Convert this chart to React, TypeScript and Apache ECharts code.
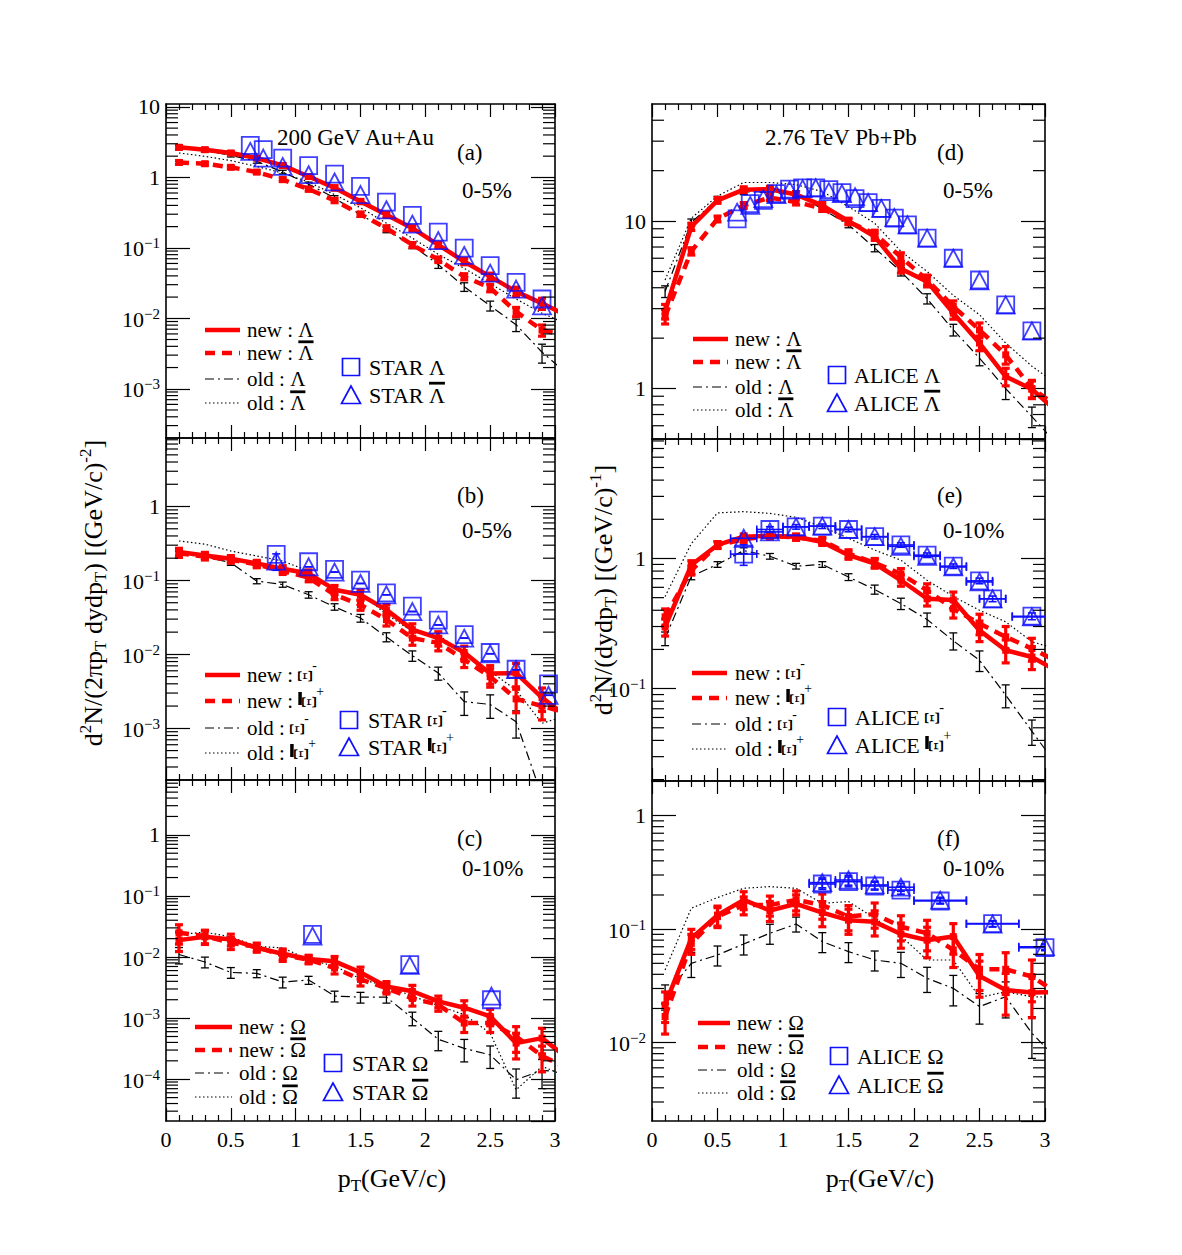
import React, { useEffect, useRef } from "react";
import * as echarts from "echarts";

const FONT = "'Liberation Serif', 'Times New Roman', Times, serif";
const RED = "#ff0000";
const BLUE = "#1010ff";
const BLACK = "#000000";

// model pT grid (last point lies just past the frame so the lines run to the edge)
const PT = [0.1, 0.3, 0.5, 0.7, 0.9, 1.1, 1.3, 1.5, 1.7, 1.9, 2.1, 2.3, 2.5, 2.7, 2.9, 3.1];

// ---------- (a) 200 GeV Au+Au, Lambda, 0-5% ----------
const A_NEW_L = [2.67, 2.47, 2.22, 1.88, 1.48, 1.03, 0.71, 0.455, 0.295, 0.19, 0.11, 0.064, 0.039, 0.024, 0.0163, 0.0107];
const A_NEW_LB = [1.63, 1.56, 1.39, 1.19, 0.93, 0.68, 0.47, 0.3, 0.19, 0.11, 0.068, 0.039, 0.027, 0.0124, 0.0068, 0.0056];
const A_OLD_L = [2.6, 2.4, 2.05, 1.69, 1.19, 0.8, 0.51, 0.295, 0.18, 0.108, 0.058, 0.028, 0.0151, 0.0081, 0.0033, 0.0016];
const A_OLD_LB = [2.22, 1.99, 1.73, 1.43, 1.15, 0.86, 0.57, 0.37, 0.224, 0.137, 0.081, 0.051, 0.031, 0.0188, 0.0118, 0.0082];
const A_ERR_NEW = [0.06, 0.05, 0.05, 0.05, 0.06, 0.06, 0.07, 0.07, 0.08, 0.08, 0.09, 0.1, 0.12, 0.15, 0.18];
const A_ERR_OLD = [0.05, 0.05, 0.05, 0.06, 0.06, 0.07, 0.08, 0.08, 0.09, 0.1, 0.12, 0.14, 0.16, 0.2, 0.3];
const A_STAR_X = [0.65, 0.75, 0.9, 1.1, 1.3, 1.5, 1.7, 1.9, 2.1, 2.3, 2.5, 2.7, 2.9];
const A_STAR_L = [2.85, 2.47, 1.88, 1.47, 1.11, 0.745, 0.446, 0.288, 0.167, 0.099, 0.056, 0.0324, 0.0188];
const A_STAR_LB = [2.34, 1.88, 1.43, 1.09, 0.86, 0.57, 0.347, 0.217, 0.127, 0.078, 0.0437, 0.026, 0.015];

// ---------- (b) 200 GeV Au+Au, Xi, 0-5% ----------
const B_NEW_X = [0.243, 0.218, 0.197, 0.17, 0.144, 0.124, 0.075, 0.064, 0.04, 0.0216, 0.0166, 0.0106, 0.0055, 0.0056, 0.0026, 0.0014];
const B_NEW_XB = [0.233, 0.21, 0.19, 0.165, 0.134, 0.109, 0.064, 0.047, 0.0295, 0.0166, 0.0143, 0.0085, 0.005, 0.0025, 0.002, 0.0016];
const B_OLD_X = [0.225, 0.21, 0.174, 0.098, 0.088, 0.064, 0.044, 0.031, 0.0172, 0.0096, 0.0056, 0.0023, 0.0021, 0.00123, 0.00012, 0.00003];
const B_OLD_XB = [0.342, 0.31, 0.25, 0.214, 0.183, 0.134, 0.077, 0.068, 0.0346, 0.0205, 0.0185, 0.01, 0.0059, 0.0033, 0.00117, 0.0015];
const B_ERR_NEW = [0.12, 0.1, 0.1, 0.1, 0.1, 0.12, 0.14, 0.16, 0.18, 0.2, 0.22, 0.22, 0.28, 0.35, 0.35];
const B_ERR_OLD = [0.1, 0.08, 0.08, 0.08, 0.08, 0.1, 0.1, 0.12, 0.14, 0.16, 0.2, 0.35, 0.35, 0.4, 0.5];
const B_STAR_X = [0.85, 1.1, 1.3, 1.5, 1.7, 1.9, 2.1, 2.3, 2.5, 2.7, 2.95];
const B_STAR_XM = [0.225, 0.179, 0.141, 0.101, 0.068, 0.045, 0.029, 0.0185, 0.0106, 0.0063, 0.004];
const B_STAR_XP = [0.183, 0.153, 0.13, 0.091, 0.064, 0.038, 0.025, 0.0166, 0.0102, 0.0062, 0.0028];
const B_STAR_XP_ERR = [0.25, 0, 0, 0, 0, 0, 0, 0, 0, 0, 0];

// ---------- (c) 200 GeV Au+Au, Omega, 0-10% ----------
const C_NEW_O = [0.0189, 0.0214, 0.0194, 0.0141, 0.0113, 0.0093, 0.0085, 0.0056, 0.0033, 0.00275, 0.00188, 0.00148, 0.00107, 0.00039, 0.00047, 0.00022];
const C_NEW_OB = [0.025, 0.022, 0.017, 0.0147, 0.0106, 0.0091, 0.0066, 0.0043, 0.0031, 0.0021, 0.00166, 0.00083, 0.00083, 0.0005, 0.00024, 0.00015];
const C_OLD_O = [0.011, 0.0083, 0.0056, 0.0054, 0.0039, 0.0042, 0.0023, 0.0022, 0.0022, 0.001, 0.00045, 0.00032, 0.00025, 0.000098, 0.00014, 0.00013];
const C_OLD_OB = [0.0234, 0.0255, 0.0214, 0.015, 0.0141, 0.0091, 0.0071, 0.0044, 0.0033, 0.0023, 0.0016, 0.00114, 0.00057, 0.000067, 0.000162, 0.00011];
const C_ERR_NEW = [0.35, 0.25, 0.22, 0.15, 0.2, 0.15, 0.2, 0.22, 0.2, 0.25, 0.22, 0.3, 0.3, 0.45, 0.45];
const C_ERR_OLD = [0.3, 0.2, 0.2, 0.15, 0.2, 0.15, 0.2, 0.2, 0.2, 0.25, 0.35, 0.4, 0.4, 0.5, 0.5];
const C_STAR_X = [1.13, 1.88, 2.51];
const C_STAR_O = [0.0234, 0.0075, 0.002];
const C_STAR_OB = [0.022, 0.0073, 0.0023];

// ---------- (d) 2.76 TeV Pb+Pb, Lambda, 0-5% ----------
const D_NEW_L = [2.89, 9.25, 13.3, 15.4, 15.5, 14.4, 12.4, 10, 8.07, 5.2, 4.35, 2.82, 1.87, 1.18, 0.99, 0.72];
const D_NEW_LB = [2.7, 6.6, 10.3, 12.4, 13.8, 13.0, 11.9, 9.9, 8.4, 6.1, 4.45, 3.09, 2.24, 1.59, 1.0, 0.78];
const D_OLD_L = [3.8, 9.8, 13.5, 15.0, 14.8, 14.6, 11.8, 9.5, 6.9, 5.0, 3.44, 2.24, 1.52, 1.0, 0.68, 0.46];
const D_OLD_LB = [4.45, 10.4, 14.1, 17, 17, 16.5, 15, 12.2, 9.7, 6.6, 5.0, 3.6, 2.76, 1.87, 1.36, 1.05];
const D_ERR_NEW = [0.1, 0.05, 0.04, 0.04, 0.04, 0.04, 0.04, 0.04, 0.05, 0.06, 0.07, 0.08, 0.1, 0.12, 0.12];
const D_ERR_OLD = [0.08, 0.05, 0.04, 0.04, 0.04, 0.04, 0.04, 0.04, 0.05, 0.06, 0.07, 0.08, 0.1, 0.14, 0.14];
const D_ALICE_X = [0.65, 0.75, 0.85, 0.95, 1.05, 1.15, 1.25, 1.35, 1.45, 1.55, 1.65, 1.75, 1.85, 1.95, 2.1, 2.3, 2.5, 2.7, 2.9];
const D_ALICE_L = [10.3, 12.7, 13.3, 14.6, 15.5, 15.8, 15.8, 15.4, 14.8, 13.6, 12.9, 11.9, 10.4, 9.5, 7.9, 6.0, 4.45, 3.16, 2.21];
const D_ALICE_LB = [11.3, 12.4, 13.6, 14.4, 15.3, 15.6, 15.8, 15.0, 14.6, 14.0, 12.9, 11.9, 10.5, 9.5, 7.9, 6.0, 4.4, 3.16, 2.21];

// ---------- (e) 2.76 TeV Pb+Pb, Xi, 0-10% ----------
const E_NEW_X = [0.298, 0.89, 1.27, 1.47, 1.49, 1.47, 1.34, 1.06, 0.915, 0.68, 0.49, 0.48, 0.28, 0.197, 0.175, 0.135];
const E_NEW_XB = [0.356, 0.81, 1.27, 1.4, 1.49, 1.45, 1.37, 1.09, 0.926, 0.76, 0.57, 0.41, 0.316, 0.25, 0.203, 0.16];
const E_OLD_X = [0.243, 0.73, 0.9, 1.15, 1.04, 0.873, 0.9, 0.72, 0.578, 0.45, 0.34, 0.233, 0.165, 0.089, 0.047, 0.025];
const E_OLD_XB = [0.51, 1.3, 2.24, 2.29, 2.22, 2.07, 1.75, 1.43, 1.16, 0.97, 0.68, 0.51, 0.4, 0.326, 0.229, 0.2];
const E_ERR_NEW = [0.15, 0.08, 0.06, 0.05, 0.05, 0.05, 0.06, 0.07, 0.08, 0.1, 0.12, 0.15, 0.18, 0.2, 0.2];
const E_ERR_OLD = [0.12, 0.06, 0.05, 0.05, 0.05, 0.05, 0.05, 0.06, 0.08, 0.1, 0.12, 0.15, 0.18, 0.2, 0.22];
const E_ALICE_X = [0.7, 0.9, 1.1, 1.3, 1.5, 1.7, 1.9, 2.1, 2.3, 2.5, 2.6, 2.9];
const E_ALICE_XERR = [0.1, 0.1, 0.1, 0.1, 0.1, 0.1, 0.1, 0.1, 0.1, 0.1, 0.1, 0.15];
const E_ALICE_XM = [1.08, 1.67, 1.75, 1.77, 1.67, 1.47, 1.27, 1.06, 0.873, 0.673, 0.49, 0.36];
const E_ALICE_XP = [1.43, 1.6, 1.75, 1.77, 1.67, 1.47, 1.24, 1.04, 0.86, 0.66, 0.49, 0.356];
const E_ALICE_XM_ERR = [0.18, 0.05, 0.04, 0.04, 0.04, 0.04, 0.04, 0.04, 0.04, 0.05, 0.05, 0.06];

// ---------- (f) 2.76 TeV Pb+Pb, Omega, 0-10% ----------
const F_NEW_O = [0.0215, 0.083, 0.133, 0.181, 0.146, 0.167, 0.14, 0.12, 0.116, 0.0906, 0.08, 0.086, 0.0387, 0.0291, 0.0276, 0.028];
const F_NEW_OB = [0.017, 0.075, 0.129, 0.163, 0.163, 0.181, 0.163, 0.129, 0.136, 0.105, 0.092, 0.0656, 0.0443, 0.0443, 0.0382, 0.027];
const F_OLD_O = [0.0258, 0.05, 0.0592, 0.074, 0.092, 0.111, 0.0776, 0.0634, 0.0535, 0.05, 0.0369, 0.0301, 0.0208, 0.0254, 0.0121, 0.007];
const F_OLD_OB = [0.0437, 0.153, 0.19, 0.229, 0.237, 0.229, 0.169, 0.175, 0.125, 0.087, 0.0535, 0.0535, 0.0251, 0.028, 0.0254, 0.025];
const F_ERR_NEW = [0.3, 0.2, 0.2, 0.18, 0.2, 0.2, 0.25, 0.25, 0.25, 0.25, 0.3, 0.3, 0.35, 0.4, 0.4];
const F_ERR_OLD = [0.25, 0.25, 0.2, 0.2, 0.2, 0.15, 0.2, 0.2, 0.2, 0.25, 0.25, 0.3, 0.3, 0.35, 0.4];
const F_ALICE_X = [1.3, 1.5, 1.7, 1.9, 2.2, 2.6, 3.0];
const F_ALICE_XERR = [0.1, 0.1, 0.1, 0.1, 0.2, 0.2, 0.2];
const F_ALICE_O = [0.25, 0.262, 0.24, 0.221, 0.177, 0.112, 0.0687];
const F_ALICE_OB = [0.257, 0.271, 0.245, 0.234, 0.18, 0.111, 0.07];
const F_ALICE_ERR = [0.1, 0.1, 0.08, 0.08, 0.06, 0.06, 0.06];

// ---------- panel set-up ----------
const PANELS = [
  { box: [166, 104, 389, 334], yMin: 2e-4, yMax: 11, showX: false,
    curves: [A_NEW_L, A_NEW_LB, A_OLD_L, A_OLD_LB], errNew: A_ERR_NEW, errOld: A_ERR_OLD,
    dx: A_STAR_X, d1: A_STAR_L, d2: A_STAR_LB, dxErr: null, d1Err: null, d2Err: null },
  { box: [166, 438, 389, 342], yMin: 2e-4, yMax: 8.45, showX: false,
    curves: [B_NEW_X, B_NEW_XB, B_OLD_X, B_OLD_XB], errNew: B_ERR_NEW, errOld: B_ERR_OLD,
    dx: B_STAR_X, d1: B_STAR_XM, d2: B_STAR_XP, dxErr: null, d1Err: null, d2Err: B_STAR_XP_ERR },
  { box: [166, 780, 389, 341], yMin: 2.07e-5, yMax: 7.9, showX: true,
    curves: [C_NEW_O, C_NEW_OB, C_OLD_O, C_OLD_OB], errNew: C_ERR_NEW, errOld: C_ERR_OLD,
    dx: C_STAR_X, d1: C_STAR_O, d2: C_STAR_OB, dxErr: null, d1Err: null, d2Err: null },
  { box: [652, 104, 393, 335], yMin: 0.5, yMax: 50, showX: false,
    curves: [D_NEW_L, D_NEW_LB, D_OLD_L, D_OLD_LB], errNew: D_ERR_NEW, errOld: D_ERR_OLD,
    dx: D_ALICE_X, d1: D_ALICE_L, d2: D_ALICE_LB, dxErr: null, d1Err: null, d2Err: null },
  { box: [652, 439, 393, 342], yMin: 0.0195, yMax: 8.28, showX: false,
    curves: [E_NEW_X, E_NEW_XB, E_OLD_X, E_OLD_XB], errNew: E_ERR_NEW, errOld: E_ERR_OLD,
    dx: E_ALICE_X, d1: E_ALICE_XM, d2: E_ALICE_XP, dxErr: E_ALICE_XERR, d1Err: E_ALICE_XM_ERR, d2Err: null },
  { box: [652, 781, 393, 340], yMin: 0.00204, yMax: 2.02, showX: true,
    curves: [F_NEW_O, F_NEW_OB, F_OLD_O, F_OLD_OB], errNew: F_ERR_NEW, errOld: F_ERR_OLD,
    dx: F_ALICE_X, d1: F_ALICE_O, d2: F_ALICE_OB, dxErr: F_ALICE_XERR, d1Err: F_ALICE_ERR, d2Err: F_ALICE_ERR },
];

const LEGENDS = [
  { lx: [205, 240], tx: 247, rows: [330, 353, 379, 403], mx: 351, my: [367, 395], mtx: 369, exp: "STAR", parts: ["L", "Lb"] },
  { lx: [205, 240], tx: 247, rows: [675, 701, 728, 753], mx: 349, my: [720, 747], mtx: 368, exp: "STAR", parts: ["Xm", "Xp"] },
  { lx: [195, 232], tx: 239, rows: [1027, 1050, 1073, 1097], mx: 333, my: [1063, 1092], mtx: 352, exp: "STAR", parts: ["O", "Ob"] },
  { lx: [693, 728], tx: 735, rows: [339, 362, 387, 410], mx: 837, my: [375, 403], mtx: 854, exp: "ALICE", parts: ["L", "Lb"] },
  { lx: [692, 727], tx: 735, rows: [673, 698, 724, 749], mx: 837, my: [717, 745], mtx: 855, exp: "ALICE", parts: ["Xm", "Xp"] },
  { lx: [698, 730], tx: 737, rows: [1023, 1047, 1070, 1093], mx: 839, my: [1056, 1085], mtx: 857, exp: "ALICE", parts: ["O", "Ob"] },
];

const NOTES: [string, number, number][] = [
  ["200 GeV Au+Au", 277, 137], ["(a)", 457, 152], ["0-5%", 462, 190],
  ["(b)", 457, 495], ["0-5%", 462, 530],
  ["(c)", 457, 838], ["0-10%", 462, 868],
  ["2.76 TeV Pb+Pb", 765, 137], ["(d)", 937, 152], ["0-5%", 943, 190],
  ["(e)", 937, 495], ["0-10%", 943, 530],
  ["(f)", 937, 838], ["0-10%", 943, 868],
];

// ---------- helpers ----------
let measureCtx: any = null;
function tw(text: string, size: number) {
  if (!measureCtx) measureCtx = document.createElement("canvas").getContext("2d");
  measureCtx.font = `${size}px "Liberation Serif"`;
  return measureCtx.measureText(text).width;
}

function txt(text: string, x: number, y: number, size: number, extra: any = {}) {
  return {
    type: "text", x, y, z: 100, silent: true,
    style: { text, fontSize: size, fontFamily: FONT, fill: BLACK, align: "left", verticalAlign: "middle", ...extra },
  };
}

function particle(kind: string, x: number, y: number, size: number): any[] {
  const out: any[] = [];
  if (kind === "L" || kind === "Lb" || kind === "O" || kind === "Ob") {
    const ch = kind[0] === "L" ? "Λ" : "Ω";
    out.push(txt(ch, x, y, size));
    if (kind.length === 2) {
      const w = tw(ch, size);
      out.push({ type: "rect", z: 100, silent: true, shape: { x: x, y: y - size * 0.6, width: w, height: 2.8 }, style: { fill: BLACK } });
    }
  } else {
    const anti = kind === "Xp";
    const gx = x + (anti ? 4 : 0);
    out.push({
      type: "text", x: gx + 7, y: y + 1, rotation: Math.PI / 2, z: 100, silent: true,
      style: { text: "Ξ", fontSize: size * 0.95, fontFamily: FONT, fill: BLACK, align: "center", verticalAlign: "middle" },
    });
    if (anti) {
      out.push({ type: "rect", z: 100, silent: true, shape: { x: x, y: y - 9, width: 3.5, height: 13 }, style: { fill: BLACK } });
    }
    out.push(txt(anti ? "+" : "-", gx + 14, y - 10, size * 0.65));
  }
  return out;
}

function buildGraphics() {
  const els: any[] = [];
  NOTES.forEach(([t, x, y]) => els.push(txt(t, x, y, 23)));
  const styles = [
    { stroke: RED, lineWidth: 4.5, lineDash: null },
    { stroke: RED, lineWidth: 4.5, lineDash: [10, 7] },
    { stroke: BLACK, lineWidth: 1.2, lineDash: [9, 4, 2, 4] },
    { stroke: BLACK, lineWidth: 1.2, lineDash: [1.5, 2.5] },
  ];
  const prefixes = ["new : ", "new : ", "old : ", "old : "];
  LEGENDS.forEach((L) => {
    L.rows.forEach((ry, k) => {
      els.push({
        type: "line", z: 100, silent: true,
        shape: { x1: L.lx[0], y1: ry, x2: L.lx[1], y2: ry },
        style: { stroke: styles[k].stroke, lineWidth: styles[k].lineWidth, lineDash: styles[k].lineDash },
      });
      els.push(txt(prefixes[k], L.tx, ry, 21));
      const px = L.tx + tw(prefixes[k], 21);
      particle(L.parts[k % 2], px, ry, 21).forEach((e) => els.push(e));
    });
    // experimental data entries
    const [y1, y2] = L.my;
    els.push({ type: "rect", z: 100, silent: true, shape: { x: L.mx - 8.5, y: y1 - 8.5, width: 17, height: 17 }, style: { fill: "none", stroke: BLUE, lineWidth: 1.7 } });
    els.push({ type: "polygon", z: 100, silent: true, shape: { points: [[L.mx, y2 - 9], [L.mx - 9.5, y2 + 8.5], [L.mx + 9.5, y2 + 8.5]] }, style: { fill: "none", stroke: BLUE, lineWidth: 1.7 } });
    const pre = L.exp + " ";
    els.push(txt(pre, L.mtx, y1, 22));
    particle(L.parts[0], L.mtx + tw(pre, 22), y1, 22).forEach((e) => els.push(e));
    els.push(txt(pre, L.mtx, y2, 22));
    particle(L.parts[1], L.mtx + tw(pre, 22), y2, 22).forEach((e) => els.push(e));
  });

  // axis titles
  const rich = {
    n: { fontSize: 26, fontFamily: FONT, fill: BLACK, lineHeight: 32, verticalAlign: "middle" },
    p: { fontSize: 17, fontFamily: FONT, fill: BLACK, lineHeight: 16, verticalAlign: "top" },
    b: { fontSize: 17, fontFamily: FONT, fill: BLACK, lineHeight: 12, verticalAlign: "bottom" },
  };
  els.push({
    type: "text", x: 93, y: 593, rotation: Math.PI / 2, z: 100, silent: true,
    style: { text: "{n|d}{p|2}{n|N/(2πp}{b|T}{n| dydp}{b|T}{n|) [(GeV/c)}{p|-2}{n|]}", rich, align: "center", verticalAlign: "middle" },
  });
  els.push({
    type: "text", x: 603, y: 590, rotation: Math.PI / 2, z: 100, silent: true,
    style: { text: "{n|d}{p|2}{n|N/(dydp}{b|T}{n|) [(GeV/c)}{p|-1}{n|]}", rich, align: "center", verticalAlign: "middle" },
  });
  els.push({
    type: "text", x: 392, y: 1178, z: 100, silent: true,
    style: { text: "{n|p}{b|T}{n|(GeV/c)}", rich, align: "center", verticalAlign: "middle" },
  });
  els.push({
    type: "text", x: 880, y: 1178, z: 100, silent: true,
    style: { text: "{n|p}{b|T}{n|(GeV/c)}", rich, align: "center", verticalAlign: "middle" },
  });
  return els;
}

function vErrSeries(gi: number, data: number[][], color: string, width: number, cap: number, z: number) {
  return {
    type: "custom", xAxisIndex: 2 * gi, yAxisIndex: 2 * gi, clip: true, z, silent: true,
    data, encode: { x: 0, y: [1, 2] },
    renderItem: (params: any, api: any) => {
      const x = api.value(0), lo = api.value(1), hi = api.value(2);
      const a = api.coord([x, lo]);
      const b = api.coord([x, hi]);
      const st = { stroke: color, lineWidth: width };
      return {
        type: "group",
        children: [
          { type: "line", shape: { x1: a[0], y1: a[1], x2: b[0], y2: b[1] }, style: st },
          { type: "line", shape: { x1: a[0] - cap, y1: a[1], x2: a[0] + cap, y2: a[1] }, style: st },
          { type: "line", shape: { x1: b[0] - cap, y1: b[1], x2: b[0] + cap, y2: b[1] }, style: st },
        ],
      };
    },
  };
}

function hErrSeries(gi: number, data: number[][], color: string, z: number) {
  return {
    type: "custom", xAxisIndex: 2 * gi, yAxisIndex: 2 * gi, clip: true, z, silent: true,
    data, encode: { x: [1, 2], y: 0 },
    renderItem: (params: any, api: any) => {
      const y = api.value(0), lo = api.value(1), hi = api.value(2);
      const a = api.coord([lo, y]);
      const b = api.coord([hi, y]);
      const st = { stroke: color, lineWidth: 1.6 };
      return {
        type: "group",
        children: [
          { type: "line", shape: { x1: a[0], y1: a[1], x2: b[0], y2: b[1] }, style: st },
          { type: "line", shape: { x1: a[0], y1: a[1] - 4, x2: a[0], y2: a[1] + 4 }, style: st },
          { type: "line", shape: { x1: b[0], y1: b[1] - 4, x2: b[0], y2: b[1] + 4 }, style: st },
        ],
      };
    },
  };
}

function minorTickValues(min: number, max: number) {
  const out: number[] = [];
  for (let k = Math.floor(Math.log10(min)); k <= Math.ceil(Math.log10(max)); k++) {
    for (let m = 2; m <= 9; m++) {
      const v = m * Math.pow(10, k);
      if (v > min * 1.001 && v < max * 0.999) out.push(v);
    }
  }
  return out;
}

function buildOption() {
  const grid: any[] = [], xAxis: any[] = [], yAxis: any[] = [], series: any[] = [];
  PANELS.forEach((p, i) => {
    grid.push({ left: p.box[0], top: p.box[1], width: p.box[2], height: p.box[3] });
    const axisLine = { show: true, onZero: false, lineStyle: { color: BLACK, width: 1.6 } };
    const xCommon = {
      type: "value", gridIndex: i, min: 0, max: 3, interval: 0.5, axisLine,
      splitLine: { show: false },
      axisTick: { show: true, inside: true, length: 13, lineStyle: { color: BLACK, width: 1.2 } },
      minorTick: { show: true, splitNumber: 5, length: 6, lineStyle: { color: BLACK, width: 1.2 } },
    };
    xAxis.push({
      ...xCommon, position: "bottom",
      axisLabel: { show: p.showX, fontSize: 22, fontFamily: FONT, color: BLACK, margin: 7, showMinLabel: true, showMaxLabel: true, formatter: (v: number) => String(v) },
    });
    xAxis.push({ ...xCommon, position: "top", axisLabel: { show: false } });
    const yCommon = {
      type: "log", logBase: 10, gridIndex: i, min: p.yMin, max: p.yMax, axisLine,
      splitLine: { show: false },
      axisTick: { show: true, inside: true, length: 24, lineStyle: { color: BLACK, width: 1.2 } },
      minorTick: { show: false },
    };
    yAxis.push({
      ...yCommon, position: "left",
      axisLabel: {
        show: true, fontSize: 22, fontFamily: FONT, color: BLACK, margin: 6,
        showMinLabel: false, showMaxLabel: false,
        formatter: (v: number) => {
          const l = Math.log10(v);
          const e = Math.round(l);
          if (Math.abs(l - e) > 0.01) return "";
          if (e === 0) return "1";
          if (e === 1) return "10";
          return `{b|10}{s|${e < 0 ? "−" : ""}${Math.abs(e)}}`;
        },
        rich: {
          b: { fontSize: 22, fontFamily: FONT, color: BLACK, lineHeight: 24, verticalAlign: "bottom" },
          s: { fontSize: 15, fontFamily: FONT, color: BLACK, lineHeight: 14, verticalAlign: "top" },
        },
      },
    });
    yAxis.push({ ...yCommon, position: "right", axisLabel: { show: false } });

    const xa = 2 * i;
    const pts = (arr: number[]) => arr.map((v, j) => [PT[j], v]);
    const errPts = (arr: number[], err: number[]) => err.map((e, j) => [PT[j], arr[j] * (1 - e), arr[j] * (1 + e)]);
    const [nA, nB, oA, oB] = p.curves;

    // old, dotted (anti-particle)
    series.push({ type: "line", xAxisIndex: xa, yAxisIndex: xa, data: pts(oB), symbol: "none", silent: true, z: 2,
      lineStyle: { color: BLACK, width: 1.2, type: [1.5, 2.5] } });
    // old, dash-dot (particle)
    series.push({ type: "line", xAxisIndex: xa, yAxisIndex: xa, data: pts(oA), symbol: "none", silent: true, z: 3,
      lineStyle: { color: BLACK, width: 1.2, type: [9, 4, 2, 4] } });
    series.push(vErrSeries(i, errPts(oA, p.errOld), BLACK, 1.3, 4, 3));
    // new, dashed (anti-particle)
    series.push({ type: "line", xAxisIndex: xa, yAxisIndex: xa, data: pts(nB), symbol: "rect", symbolSize: 7, silent: true, z: 5,
      itemStyle: { color: RED }, lineStyle: { color: RED, width: 4.5, type: [10, 7] } });
    series.push(vErrSeries(i, errPts(nB, p.errNew), RED, 3.2, 4, 5));
    // new, solid (particle)
    series.push({ type: "line", xAxisIndex: xa, yAxisIndex: xa, data: pts(nA), symbol: "rect", symbolSize: 7, silent: true, z: 6,
      itemStyle: { color: RED }, lineStyle: { color: RED, width: 4.5 } });
    series.push(vErrSeries(i, errPts(nA, p.errNew), RED, 3.2, 4, 6));

    // experimental data
    if (p.dxErr) {
      series.push(hErrSeries(i, p.dx.map((x, j) => [p.d1[j], x - p.dxErr![j], x + p.dxErr![j]]), BLUE, 8));
      series.push(hErrSeries(i, p.dx.map((x, j) => [p.d2[j], x - p.dxErr![j], x + p.dxErr![j]]), BLUE, 8));
    }
    if (p.d1Err) {
      series.push(vErrSeries(i, p.dx.map((x, j) => [x, p.d1[j] * (1 - p.d1Err![j]), p.d1[j] * (1 + p.d1Err![j])]), BLUE, 1.6, 4, 8));
    }
    if (p.d2Err) {
      series.push(vErrSeries(i, p.dx.map((x, j) => [x, p.d2[j] * (1 - p.d2Err![j]), p.d2[j] * (1 + p.d2Err![j])]), BLUE, 1.6, 4, 8));
    }
    series.push({ type: "scatter", xAxisIndex: xa, yAxisIndex: xa, data: p.dx.map((x, j) => [x, p.d1[j]]), clip: false,
      symbol: "rect", symbolSize: 17, silent: true, z: 9,
      itemStyle: { color: "rgba(0,0,0,0)", borderColor: BLUE, borderWidth: 1.8 } });
    series.push({ type: "scatter", xAxisIndex: xa, yAxisIndex: xa, data: p.dx.map((x, j) => [x, p.d2[j]]), clip: false,
      symbol: "triangle", symbolSize: [18, 17], silent: true, z: 9,
      itemStyle: { color: "rgba(0,0,0,0)", borderColor: BLUE, borderWidth: 1.8 } });

    // minor log ticks on both vertical frame edges
    series.push({
      type: "custom", xAxisIndex: xa, yAxisIndex: xa, silent: true, z: 10,
      data: minorTickValues(p.yMin, p.yMax).map((v) => [1.5, v]), encode: { x: 0, y: 1 },
      renderItem: (params: any, api: any) => {
        const cs = params.coordSys;
        const y = api.coord([1.5, api.value(1)])[1];
        const st = { stroke: BLACK, lineWidth: 1.2 };
        return {
          type: "group",
          children: [
            { type: "line", shape: { x1: cs.x, y1: y, x2: cs.x + 12, y2: y }, style: st },
            { type: "line", shape: { x1: cs.x + cs.width - 12, y1: y, x2: cs.x + cs.width, y2: y }, style: st },
          ],
        };
      },
    });
  });

  return {
    animation: false,
    backgroundColor: "#ffffff",
    grid, xAxis, yAxis, series,
    graphic: { elements: buildGraphics() },
  };
}

export default function App() {
  const ref = useRef<HTMLDivElement>(null);
  useEffect(() => {
    const chart = echarts.init(ref.current as HTMLDivElement, null, { renderer: "svg" });
    chart.setOption(buildOption() as any);
    return () => chart.dispose();
  }, []);
  return (
    <div
      ref={ref}
      style={{ position: "absolute", left: 0, top: 0, width: 1182, height: 1255, background: "#fff" }}
    />
  );
}
